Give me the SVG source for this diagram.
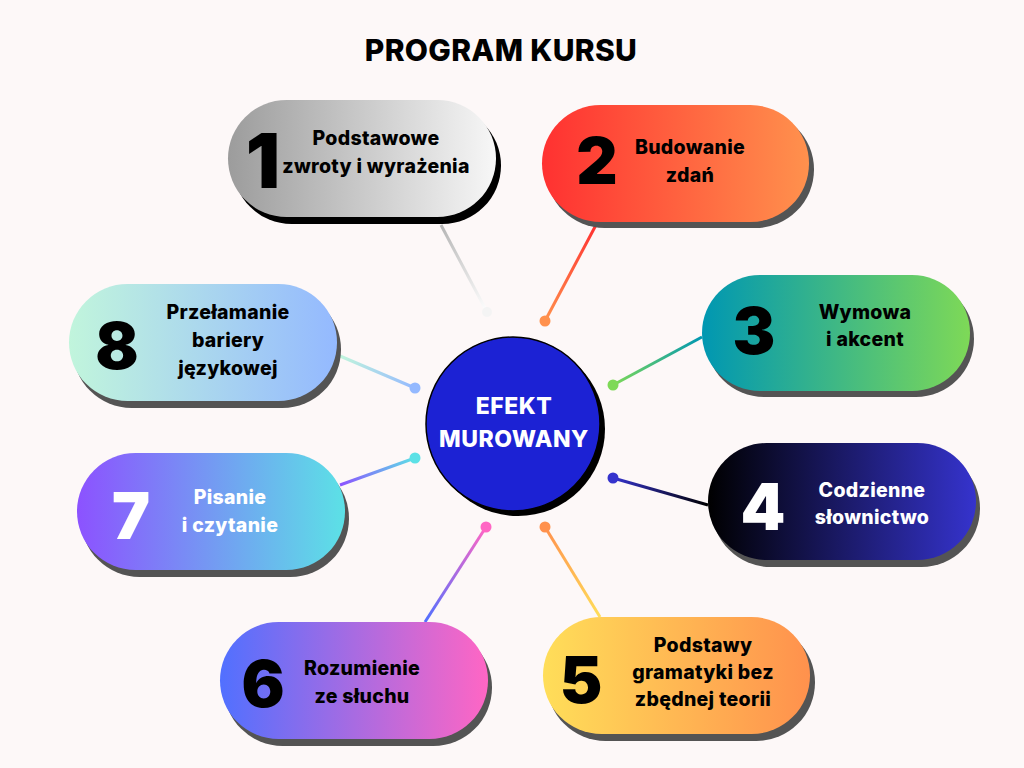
<svg xmlns="http://www.w3.org/2000/svg" width="1024" height="768" viewBox="0 0 1024 768">
<defs>
<linearGradient id="g1" x1="0" y1="0" x2="1" y2="0"><stop offset="0" stop-color="#9c9c9c"/><stop offset="1" stop-color="#f7f7f7"/></linearGradient>
<linearGradient id="g2" x1="0" y1="0" x2="1" y2="0"><stop offset="0" stop-color="#ff3131"/><stop offset="1" stop-color="#ff914d"/></linearGradient>
<linearGradient id="g3" x1="0" y1="0" x2="1" y2="0"><stop offset="0" stop-color="#0097b2"/><stop offset="1" stop-color="#7ed957"/></linearGradient>
<linearGradient id="g4" x1="0" y1="0" x2="1" y2="0"><stop offset="0" stop-color="#000000"/><stop offset="1" stop-color="#3533cd"/></linearGradient>
<linearGradient id="g5" x1="0" y1="0" x2="1" y2="0"><stop offset="0" stop-color="#ffde59"/><stop offset="1" stop-color="#ff914d"/></linearGradient>
<linearGradient id="g6" x1="0" y1="0" x2="1" y2="0"><stop offset="0" stop-color="#5170ff"/><stop offset="1" stop-color="#ff66c4"/></linearGradient>
<linearGradient id="g7" x1="0" y1="0" x2="1" y2="0"><stop offset="0" stop-color="#8c52ff"/><stop offset="1" stop-color="#5ce1e6"/></linearGradient>
<linearGradient id="g8" x1="0" y1="0" x2="1" y2="0"><stop offset="0" stop-color="#c1f5dc"/><stop offset="1" stop-color="#94b9ff"/></linearGradient>
<linearGradient id="l1" gradientUnits="userSpaceOnUse" x1="441" y1="225" x2="487" y2="312"><stop offset="0" stop-color="#b5b5b5"/><stop offset="1" stop-color="#ffffff"/></linearGradient>
<linearGradient id="l2" gradientUnits="userSpaceOnUse" x1="596" y1="225" x2="545" y2="321"><stop offset="0" stop-color="#ff3131"/><stop offset="1" stop-color="#ff914d"/></linearGradient>
<linearGradient id="l3" gradientUnits="userSpaceOnUse" x1="702" y1="337" x2="613" y2="385"><stop offset="0" stop-color="#0097b2"/><stop offset="1" stop-color="#7ed957"/></linearGradient>
<linearGradient id="l4" gradientUnits="userSpaceOnUse" x1="708" y1="505" x2="613" y2="478"><stop offset="0" stop-color="#000000"/><stop offset="1" stop-color="#3533cd"/></linearGradient>
<linearGradient id="l5" gradientUnits="userSpaceOnUse" x1="600" y1="617" x2="545" y2="527"><stop offset="0" stop-color="#ffde59"/><stop offset="1" stop-color="#ff914d"/></linearGradient>
<linearGradient id="l6" gradientUnits="userSpaceOnUse" x1="425" y1="622" x2="486" y2="527"><stop offset="0" stop-color="#5170ff"/><stop offset="1" stop-color="#ff66c4"/></linearGradient>
<linearGradient id="l7" gradientUnits="userSpaceOnUse" x1="340" y1="485" x2="415" y2="458"><stop offset="0" stop-color="#8c52ff"/><stop offset="1" stop-color="#5ce1e6"/></linearGradient>
<linearGradient id="l8" gradientUnits="userSpaceOnUse" x1="340" y1="356" x2="415" y2="388"><stop offset="0" stop-color="#c1f5dc"/><stop offset="1" stop-color="#94b9ff"/></linearGradient>
</defs>
<style>
text{font-family:Inter,"Noto Sans","Liberation Sans",sans-serif;text-anchor:middle;}
.lbl{font-size:19.5px;font-weight:800;fill:#000;letter-spacing:0.3px;}
.lblw{font-size:19.5px;font-weight:800;fill:#fff;letter-spacing:0.3px;}
.num{font-size:64px;font-weight:900;fill:#000;dominant-baseline:central;}
.numw{font-size:64px;font-weight:900;fill:#fff;dominant-baseline:central;}
.sh{fill:#545454;}
.conn line{stroke-width:3;}
</style>
<rect width="1024" height="768" fill="#fdf8f8"/>
<text x="501" y="61" style="font-size:30px;font-weight:800;fill:#000;letter-spacing:0.3px">PROGRAM KURSU</text>

<g id="connectors" class="conn">
<line x1="441" y1="225" x2="487" y2="312" stroke="url(#l1)"/>
<circle cx="487" cy="312" r="5" fill="#f4f4f4"/>
<line x1="596" y1="225" x2="545" y2="321" stroke="url(#l2)"/>
<circle cx="545" cy="321" r="5.5" fill="#ff914d"/>
<line x1="702" y1="337" x2="613" y2="385" stroke="url(#l3)"/>
<circle cx="613" cy="385" r="5.5" fill="#7ed957"/>
<line x1="708" y1="505" x2="613" y2="478" stroke="url(#l4)"/>
<circle cx="613" cy="478" r="5.5" fill="#3533cd"/>
<line x1="600" y1="617" x2="545" y2="527" stroke="url(#l5)"/>
<circle cx="545" cy="527" r="5.5" fill="#ff914d"/>
<line x1="425" y1="622" x2="486" y2="527" stroke="url(#l6)"/>
<circle cx="486" cy="527" r="5.5" fill="#ff66c4"/>
<line x1="340" y1="485" x2="415" y2="458" stroke="url(#l7)"/>
<circle cx="415" cy="458" r="5.5" fill="#5ce1e6"/>
<line x1="340" y1="356" x2="415" y2="388" stroke="url(#l8)"/>
<circle cx="415" cy="388" r="5.5" fill="#94b9ff"/>
</g>

<g id="center">
<circle cx="518" cy="429" r="87" fill="#000"/>
<circle cx="513" cy="424" r="87" fill="#1c22d4" stroke="#000" stroke-width="1.5"/>
<text x="514" y="414" style="font-size:23px;font-weight:800;fill:#fff;letter-spacing:0.5px">EFEKT</text>
<text x="514" y="447" style="font-size:23px;font-weight:800;fill:#fff;letter-spacing:0.5px">MUROWANY</text>
</g>

<g id="node1">
<rect x="233" y="107" width="268" height="117" rx="58.5" fill="#000"/>
<rect x="228" y="100" width="268" height="117" rx="58.5" fill="url(#g1)"/>
<text x="263" y="160" class="num" style="font-size:76px">1</text>
<text x="376" y="145" class="lbl">Podstawowe</text>
<text x="376" y="173" class="lbl">zwroty i wyrażenia</text>
</g>

<g id="node2">
<rect x="546" y="111" width="268" height="117" rx="58.5" class="sh"/>
<rect x="542" y="105" width="267" height="117" rx="58.5" fill="url(#g2)"/>
<text x="597" y="160" class="num">2</text>
<text x="690" y="154" class="lbl">Budowanie</text>
<text x="690" y="182" class="lbl">zdań</text>
</g>

<g id="node3">
<rect x="706" y="281" width="268" height="116" rx="58" class="sh"/>
<rect x="702" y="275" width="268" height="116" rx="58" fill="url(#g3)"/>
<text x="754" y="330" class="num">3</text>
<text x="865" y="319" class="lbl">Wymowa</text>
<text x="865" y="346" class="lbl">i akcent</text>
</g>

<g id="node4">
<rect x="712" y="450" width="268" height="117" rx="58.5" class="sh"/>
<rect x="708" y="443" width="268" height="117" rx="58.5" fill="url(#g4)"/>
<text x="763" y="506" class="numw">4</text>
<text x="872" y="497" class="lblw">Codzienne</text>
<text x="872" y="524" class="lblw">słownictwo</text>
</g>

<g id="node5">
<rect x="547" y="624" width="268" height="117" rx="58.5" class="sh"/>
<rect x="543" y="617" width="267" height="117" rx="58.5" fill="url(#g5)"/>
<text x="581" y="679" class="num">5</text>
<text x="703" y="652" class="lbl">Podstawy</text>
<text x="703" y="679" class="lbl">gramatyki bez</text>
<text x="703" y="706" class="lbl">zbędnej teorii</text>
</g>

<g id="node6">
<rect x="224" y="629" width="268" height="117" rx="58.5" class="sh"/>
<rect x="220" y="622" width="268" height="117" rx="58.5" fill="url(#g6)"/>
<text x="263" y="683" class="num">6</text>
<text x="362" y="675" class="lbl">Rozumienie</text>
<text x="362" y="703" class="lbl">ze słuchu</text>
</g>

<g id="node7">
<rect x="81" y="460" width="268" height="117" rx="58.5" class="sh"/>
<rect x="77" y="453" width="268" height="117" rx="58.5" fill="url(#g7)"/>
<text x="131" y="515" class="numw">7</text>
<text x="230" y="504" class="lblw">Pisanie</text>
<text x="230" y="532" class="lblw">i czytanie</text>
</g>

<g id="node8">
<rect x="73" y="291" width="268" height="117" rx="58.5" class="sh"/>
<rect x="69" y="284" width="268" height="117" rx="58.5" fill="url(#g8)"/>
<text x="117" y="345" class="num">8</text>
<text x="228" y="319" class="lbl">Przełamanie</text>
<text x="228" y="347" class="lbl">bariery</text>
<text x="228" y="375" class="lbl">językowej</text>
</g>
</svg>
